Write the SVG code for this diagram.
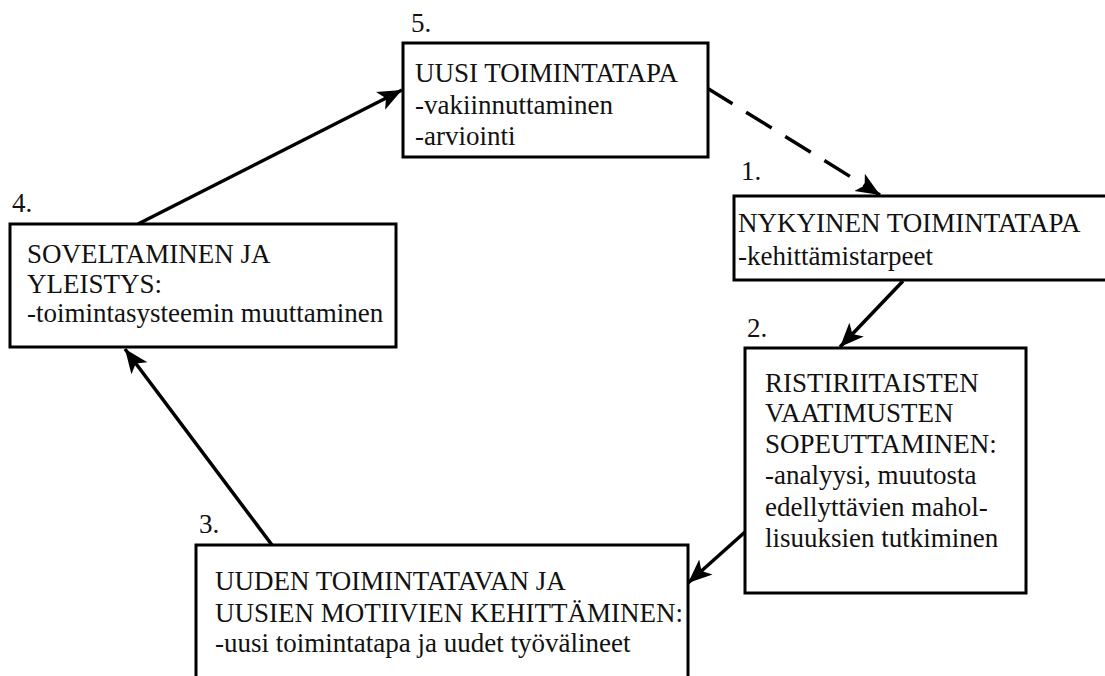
<svg xmlns="http://www.w3.org/2000/svg" width="1105" height="676" viewBox="0 0 1105 676">
<style>
.box{fill:#fff;stroke:#000;stroke-width:3}
.c{fill:none;stroke:#000;stroke-width:3.5}
.d{stroke-dasharray:30 16}
</style>
<defs>
<marker id="ah" markerUnits="userSpaceOnUse" markerWidth="26" markerHeight="22" refX="24" refY="11" orient="auto">
<path d="M0,1 L24,11 L0,21 L6,11 Z" fill="#000"/>
</marker>
</defs>
<rect width="1105" height="676" fill="#fff"/>
<g id="connectors">
<line class="c d" x1="707" y1="88" x2="880" y2="195" marker-end="url(#ah)"/>
<line class="c" x1="903" y1="281" x2="840" y2="347" marker-end="url(#ah)"/>
<line class="c" x1="745" y1="532" x2="688" y2="583" marker-end="url(#ah)"/>
<line class="c" x1="272" y1="545" x2="125" y2="349" marker-end="url(#ah)"/>
<line class="c" x1="138" y1="224" x2="402" y2="90" marker-end="url(#ah)"/>
</g>
<g font-family="Liberation Serif, Times New Roman, serif" font-size="27" fill="#111">
<g id="node5">
<text x="411" y="32">5.</text>
<rect class="box" x="403" y="43" width="305" height="114"/>
<text x="415" y="82">UUSI TOIMINTATAPA</text>
<text x="415" y="114">-vakiinnuttaminen</text>
<text x="415" y="145">-arviointi</text>
</g>
<g id="node1">
<text x="741" y="180">1.</text>
<rect class="box" x="734" y="196" width="380" height="84"/>
<text x="738" y="232">NYKYINEN TOIMINTATAPA</text>
<text x="738" y="265">-kehittämistarpeet</text>
</g>
<g id="node2">
<text x="747" y="337">2.</text>
<rect class="box" x="745" y="348" width="281" height="245"/>
<text x="765" y="392">RISTIRIITAISTEN</text>
<text x="765" y="422">VAATIMUSTEN</text>
<text x="765" y="453">SOPEUTTAMINEN:</text>
<text x="765" y="484">-analyysi, muutosta</text>
<text x="765" y="516">edellyttävien mahol-</text>
<text x="765" y="547">lisuuksien tutkiminen</text>
</g>
<g id="node3">
<text x="199" y="533">3.</text>
<rect class="box" x="196" y="545" width="492" height="150"/>
<text x="215" y="590">UUDEN TOIMINTATAVAN JA</text>
<text x="215" y="622">UUSIEN MOTIIVIEN KEHITTÄMINEN:</text>
<text x="215" y="652">-uusi toimintatapa ja uudet työvälineet</text>
</g>
<g id="node4">
<text x="12" y="212">4.</text>
<rect class="box" x="10" y="224" width="386" height="123"/>
<text x="27" y="263">SOVELTAMINEN JA</text>
<text x="27" y="293">YLEISTYS:</text>
<text x="27" y="322">-toimintasysteemin muuttaminen</text>
</g>
</g>
</svg>
